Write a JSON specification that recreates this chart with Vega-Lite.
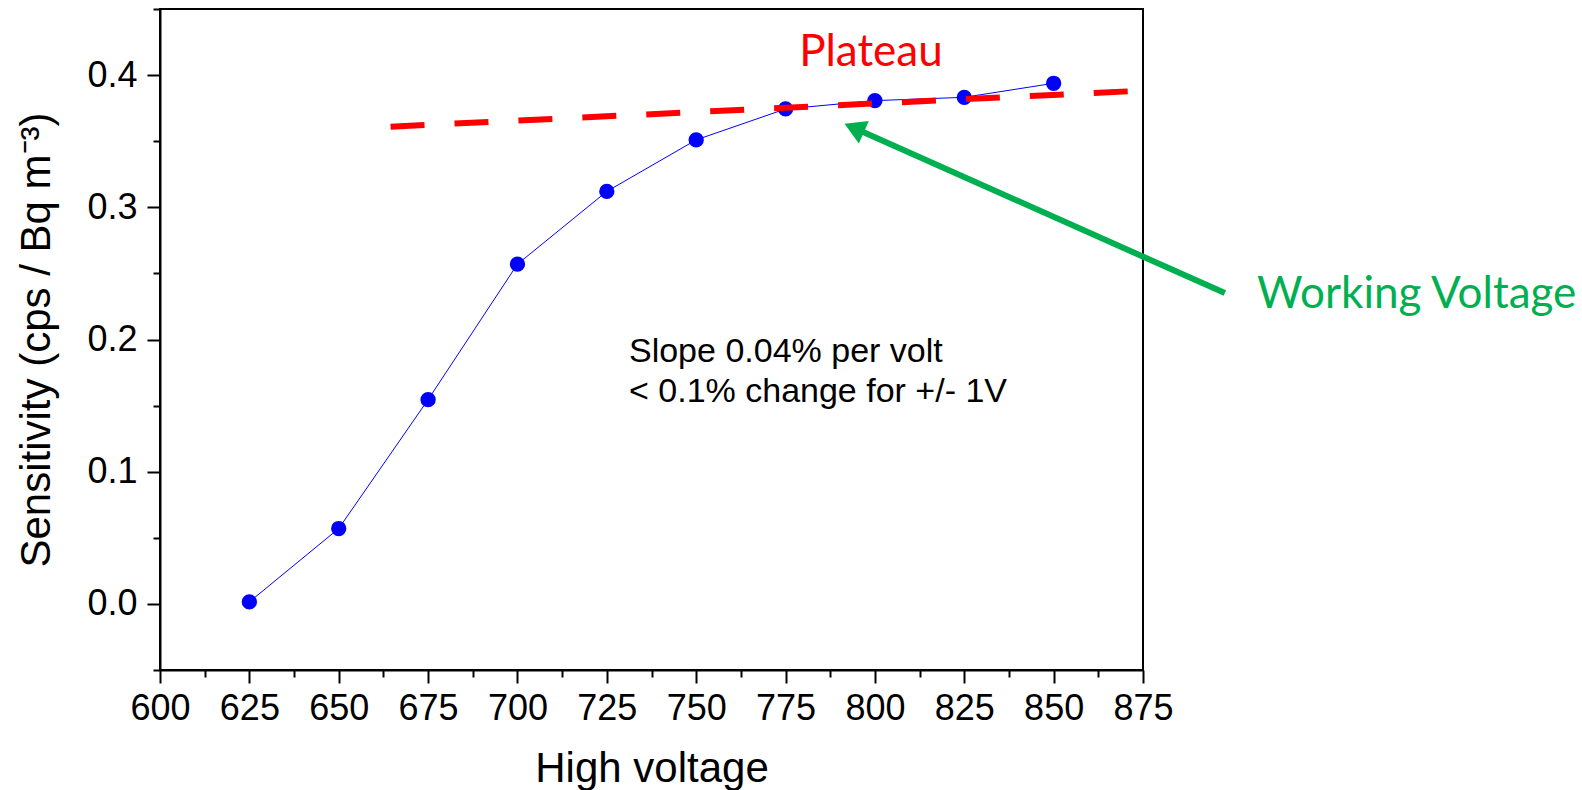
{
  "$schema": "https://vega.github.io/schema/vega-lite/v6.json",
  "autosize": {"type": "none"},
  "padding": {"left": 160, "top": 9, "right": 439, "bottom": 120},
  "width": 983,
  "height": 661,
  "background": "white",
  "config": {
    "view": {"stroke": "black", "strokeWidth": 2},
    "axis": {
      "domainColor": "black", "domainWidth": 2, "tickColor": "black", "tickWidth": 2,
      "grid": false, "labelFont": "Liberation Sans", "labelColor": "black",
      "titleFont": "Liberation Sans", "titleColor": "black", "titleFontWeight": "normal",
      "labelFontSize": 36, "titleFontSize": 42
    }
  },
  "datasets": {
    "pts": [
      {"hv": 625, "s": 0.0015},
      {"hv": 650, "s": 0.057},
      {"hv": 675, "s": 0.1545},
      {"hv": 700, "s": 0.257},
      {"hv": 725, "s": 0.312},
      {"hv": 750, "s": 0.351},
      {"hv": 775, "s": 0.3744},
      {"hv": 800, "s": 0.3807},
      {"hv": 825, "s": 0.3832},
      {"hv": 850, "s": 0.3938}
    ],
    "plateau": [
      {"hv": 664.5, "s": 0.361},
      {"hv": 870.8, "s": 0.3877}
    ],
    "arrow": [
      {"hv": 897.9, "s": 0.2351, "o": 0},
      {"hv": 796.7, "s": 0.357, "o": 1}
    ],
    "head": [
      {"hv": 794.2, "s": 0.360}
    ],
    "notes": [
      {"hv": 731.2, "s": 0.183, "t": "Slope 0.04% per volt"},
      {"hv": 731.2, "s": 0.1528, "t": "< 0.1% change for +/- 1V"}
    ],
    "plat": [{"hv": 798.9, "s": 0.407, "t": "Plateau"}],
    "wv": [{"hv": 906.9, "s": 0.2236, "t": "Working Voltage"}]
  },
  "layer": [
    {
      "data": {"name": "pts"},
      "mark": {"type": "line", "color": "#0000FF", "strokeWidth": 1},
      "encoding": {
        "x": {
          "field": "hv", "type": "quantitative",
          "scale": {"domain": [600, 875], "nice": false, "zero": false},
          "axis": {
            "title": "High voltage",
            "values": [600, 612.5, 625, 637.5, 650, 662.5, 675, 687.5, 700, 712.5, 725, 737.5, 750, 762.5, 775, 787.5, 800, 812.5, 825, 837.5, 850, 862.5, 875],
            "labelExpr": "datum.value % 25 === 0 ? datum.label : ''",
            "tickSize": {"condition": {"test": "datum.value % 25 === 0", "value": 13}, "value": 7},
            "labelPadding": 8,
            "titlePadding": 22,
            "labelFlush": false
          }
        },
        "y": {
          "field": "s", "type": "quantitative",
          "scale": {"domain": [-0.05, 0.45], "nice": false, "zero": false},
          "axis": {
            "title": "Sensitivity (cps / Bq m⁻³)",
            "values": [-0.05, 0, 0.05, 0.1, 0.15, 0.2, 0.25, 0.3, 0.35, 0.4, 0.45],
            "labelExpr": "abs(datum.value*10 - round(datum.value*10)) < 0.01 ? format(datum.value, '.1f') : ''",
            "tickSize": {"condition": {"test": "abs(datum.value*10 - round(datum.value*10)) < 0.01", "value": 13}, "value": 7},
            "labelPadding": 10,
            "titlePadding": 28,
            "labelFlush": false
          }
        }
      }
    },
    {
      "data": {"name": "pts"},
      "mark": {"type": "point", "filled": true, "shape": "circle", "size": 235, "color": "#0000FF", "opacity": 1},
      "encoding": {
        "x": {"field": "hv", "type": "quantitative"},
        "y": {"field": "s", "type": "quantitative"}
      }
    },
    {
      "data": {"name": "plateau"},
      "mark": {"type": "line", "color": "#FF0000", "strokeWidth": 6, "strokeDash": [34, 30]},
      "encoding": {
        "x": {"field": "hv", "type": "quantitative"},
        "y": {"field": "s", "type": "quantitative"}
      }
    },
    {
      "data": {"name": "arrow"},
      "mark": {"type": "line", "color": "#00B050", "strokeWidth": 6, "clip": false},
      "encoding": {
        "x": {"field": "hv", "type": "quantitative"},
        "y": {"field": "s", "type": "quantitative"},
        "order": {"field": "o"}
      }
    },
    {
      "data": {"name": "head"},
      "mark": {"type": "point", "shape": "triangle-up", "filled": true, "color": "#00B050", "opacity": 1, "size": 600, "angle": 294},
      "encoding": {
        "x": {"field": "hv", "type": "quantitative"},
        "y": {"field": "s", "type": "quantitative"}
      }
    },
    {
      "data": {"name": "notes"},
      "mark": {"type": "text", "align": "left", "baseline": "alphabetic", "font": "Liberation Sans", "fontSize": 34, "color": "black"},
      "encoding": {
        "x": {"field": "hv", "type": "quantitative"},
        "y": {"field": "s", "type": "quantitative"},
        "text": {"field": "t"}
      }
    },
    {
      "data": {"name": "plat"},
      "mark": {"type": "text", "align": "center", "baseline": "alphabetic", "font": "Lato", "fontSize": 44, "color": "#FF0000"},
      "encoding": {
        "x": {"field": "hv", "type": "quantitative"},
        "y": {"field": "s", "type": "quantitative"},
        "text": {"field": "t"}
      }
    },
    {
      "data": {"name": "wv"},
      "mark": {"type": "text", "align": "left", "baseline": "alphabetic", "font": "Lato", "fontSize": 44, "color": "#00B050", "clip": false},
      "encoding": {
        "x": {"field": "hv", "type": "quantitative"},
        "y": {"field": "s", "type": "quantitative"},
        "text": {"field": "t"}
      }
    }
  ]
}
